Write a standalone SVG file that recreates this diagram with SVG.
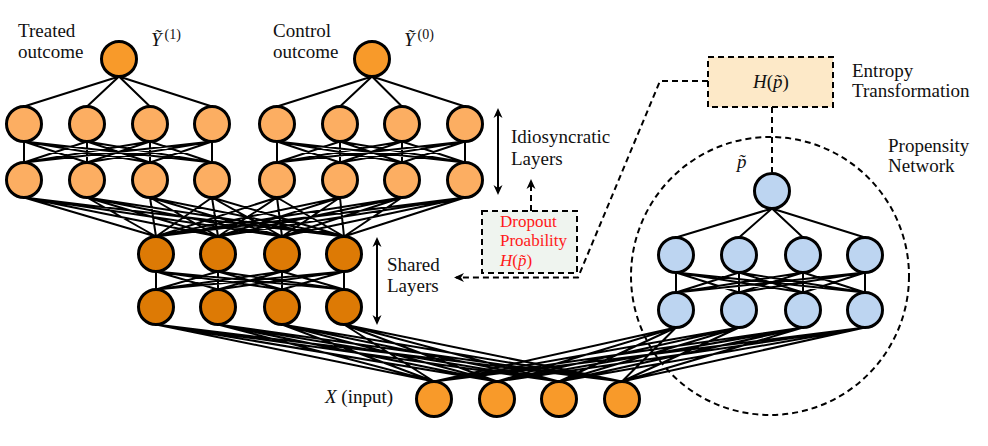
<svg xmlns="http://www.w3.org/2000/svg" width="988" height="446" viewBox="0 0 988 446">
<style>
text{font-family:"Liberation Serif","DejaVu Serif",serif;font-size:19px;fill:#111}
.it{font-style:italic}
.red{fill:#ff1a1a;font-size:17px}
.sup{font-size:14px;font-style:normal}
.n{stroke:#000;stroke-width:3}
.out{fill:#f89a2a}
.idio{fill:#fcae62}
.sh{fill:#dd7a05}
.in{fill:#f89a2a}
.bl{fill:#bdd5f1}
.w{fill:none;stroke:#000;stroke-width:2}
.d{fill:none;stroke:#000;stroke-width:2;stroke-dasharray:6 4}
</style>
<defs>
<marker id="ah" viewBox="0 0 10 10" refX="8" refY="5" markerWidth="10" markerHeight="10" markerUnits="userSpaceOnUse" orient="auto-start-reverse">
<path d="M0,0.5 L10,5 L0,9.5 L3,5 z" fill="#000"/>
</marker>
</defs>
<g id="connectors">
<path class="w" d="M119 76.5L24 106.5M119 76.5L87 106.5M119 76.5L150 106.5M119 76.5L212 106.5M372 76.5L277 106.5M372 76.5L340 106.5M372 76.5L402 106.5M372 76.5L465 106.5"/>
<path class="w" d="M24 141.5L24 162.5M24 141.5L87 162.5M24 141.5L150 162.5M24 141.5L212 162.5M87 141.5L24 162.5M87 141.5L87 162.5M87 141.5L150 162.5M87 141.5L212 162.5M150 141.5L24 162.5M150 141.5L87 162.5M150 141.5L150 162.5M150 141.5L212 162.5M212 141.5L24 162.5M212 141.5L87 162.5M212 141.5L150 162.5M212 141.5L212 162.5"/>
<path class="w" d="M277 141.5L277 162.5M277 141.5L340 162.5M277 141.5L402 162.5M277 141.5L465 162.5M340 141.5L277 162.5M340 141.5L340 162.5M340 141.5L402 162.5M340 141.5L465 162.5M402 141.5L277 162.5M402 141.5L340 162.5M402 141.5L402 162.5M402 141.5L465 162.5M465 141.5L277 162.5M465 141.5L340 162.5M465 141.5L402 162.5M465 141.5L465 162.5"/>
<path class="w" d="M24 197.5L156 236.5M24 197.5L218 236.5M24 197.5L282 236.5M24 197.5L344 236.5M87 197.5L156 236.5M87 197.5L218 236.5M87 197.5L282 236.5M87 197.5L344 236.5M150 197.5L156 236.5M150 197.5L218 236.5M150 197.5L282 236.5M150 197.5L344 236.5M212 197.5L156 236.5M212 197.5L218 236.5M212 197.5L282 236.5M212 197.5L344 236.5M277 197.5L156 236.5M277 197.5L218 236.5M277 197.5L282 236.5M277 197.5L344 236.5M340 197.5L156 236.5M340 197.5L218 236.5M340 197.5L282 236.5M340 197.5L344 236.5M402 197.5L156 236.5M402 197.5L218 236.5M402 197.5L282 236.5M402 197.5L344 236.5M465 197.5L156 236.5M465 197.5L218 236.5M465 197.5L282 236.5M465 197.5L344 236.5"/>
<path class="w" d="M156 271.5L156 289.5M156 271.5L218 289.5M156 271.5L282 289.5M156 271.5L344 289.5M218 271.5L156 289.5M218 271.5L218 289.5M218 271.5L282 289.5M218 271.5L344 289.5M282 271.5L156 289.5M282 271.5L218 289.5M282 271.5L282 289.5M282 271.5L344 289.5M344 271.5L156 289.5M344 271.5L218 289.5M344 271.5L282 289.5M344 271.5L344 289.5"/>
<path class="w" d="M156 324.5L434 381.5M156 324.5L497 381.5M156 324.5L559 381.5M156 324.5L622 381.5M218 324.5L434 381.5M218 324.5L497 381.5M218 324.5L559 381.5M218 324.5L622 381.5M282 324.5L434 381.5M282 324.5L497 381.5M282 324.5L559 381.5M282 324.5L622 381.5M344 324.5L434 381.5M344 324.5L497 381.5M344 324.5L559 381.5M344 324.5L622 381.5"/>
<path class="w" d="M434 381.5L676 327.5M434 381.5L739 327.5M434 381.5L803 327.5M434 381.5L865 327.5M497 381.5L676 327.5M497 381.5L739 327.5M497 381.5L803 327.5M497 381.5L865 327.5M559 381.5L676 327.5M559 381.5L739 327.5M559 381.5L803 327.5M559 381.5L865 327.5M622 381.5L676 327.5M622 381.5L739 327.5M622 381.5L803 327.5M622 381.5L865 327.5"/>
<path class="w" d="M676 292.5L676 272.5M676 292.5L739 272.5M676 292.5L803 272.5M676 292.5L865 272.5M739 292.5L676 272.5M739 292.5L739 272.5M739 292.5L803 272.5M739 292.5L865 272.5M803 292.5L676 272.5M803 292.5L739 272.5M803 292.5L803 272.5M803 292.5L865 272.5M865 292.5L676 272.5M865 292.5L739 272.5M865 292.5L803 272.5M865 292.5L865 272.5"/>
<path class="w" d="M772 208.5L676 237.5M772 208.5L739 237.5M772 208.5L803 237.5M772 208.5L865 237.5"/>
<path class="w" d="M498 110L498 193" marker-start="url(#ah)" marker-end="url(#ah)"/>
<path class="w" d="M377 239L377 323" marker-start="url(#ah)" marker-end="url(#ah)"/>
<path class="d" d="M708 81L660 81L578 277.5L456 277.5" marker-end="url(#ah)"/>
<path class="d" d="M531 211L531 181" marker-end="url(#ah)"/>
<path class="d" d="M772 107L772 172"/>
<circle class="d" cx="770" cy="276" r="139"/>
</g>
<g id="treated-out"><circle class="n out" cx="119" cy="59" r="17.5"/></g>
<g id="control-out"><circle class="n out" cx="372" cy="59" r="17.5"/></g>
<g id="treated-l1">
<circle class="n idio" cx="24" cy="124" r="17.5"/><circle class="n idio" cx="87" cy="124" r="17.5"/><circle class="n idio" cx="150" cy="124" r="17.5"/><circle class="n idio" cx="212" cy="124" r="17.5"/>
</g>
<g id="treated-l2">
<circle class="n idio" cx="24" cy="180" r="17.5"/><circle class="n idio" cx="87" cy="180" r="17.5"/><circle class="n idio" cx="150" cy="180" r="17.5"/><circle class="n idio" cx="212" cy="180" r="17.5"/>
</g>
<g id="control-l1">
<circle class="n idio" cx="277" cy="124" r="17.5"/><circle class="n idio" cx="340" cy="124" r="17.5"/><circle class="n idio" cx="402" cy="124" r="17.5"/><circle class="n idio" cx="465" cy="124" r="17.5"/>
</g>
<g id="control-l2">
<circle class="n idio" cx="277" cy="180" r="17.5"/><circle class="n idio" cx="340" cy="180" r="17.5"/><circle class="n idio" cx="402" cy="180" r="17.5"/><circle class="n idio" cx="465" cy="180" r="17.5"/>
</g>
<g id="shared-l1">
<circle class="n sh" cx="156" cy="254" r="17.5"/><circle class="n sh" cx="218" cy="254" r="17.5"/><circle class="n sh" cx="282" cy="254" r="17.5"/><circle class="n sh" cx="344" cy="254" r="17.5"/>
</g>
<g id="shared-l2">
<circle class="n sh" cx="156" cy="307" r="17.5"/><circle class="n sh" cx="218" cy="307" r="17.5"/><circle class="n sh" cx="282" cy="307" r="17.5"/><circle class="n sh" cx="344" cy="307" r="17.5"/>
</g>
<g id="input">
<circle class="n in" cx="434" cy="399" r="17.5"/><circle class="n in" cx="497" cy="399" r="17.5"/><circle class="n in" cx="559" cy="399" r="17.5"/><circle class="n in" cx="622" cy="399" r="17.5"/>
</g>
<g id="prop-l2">
<circle class="n bl" cx="676" cy="310" r="17.5"/><circle class="n bl" cx="739" cy="310" r="17.5"/><circle class="n bl" cx="803" cy="310" r="17.5"/><circle class="n bl" cx="865" cy="310" r="17.5"/>
</g>
<g id="prop-l1">
<circle class="n bl" cx="676" cy="255" r="17.5"/><circle class="n bl" cx="739" cy="255" r="17.5"/><circle class="n bl" cx="803" cy="255" r="17.5"/><circle class="n bl" cx="865" cy="255" r="17.5"/>
</g>
<g id="prop-out"><circle class="n bl" cx="772" cy="191" r="17.5"/></g>
<g id="entropy">
<rect x="708" y="57" width="125" height="50" fill="#fde9c8" stroke="#000" stroke-width="2" stroke-dasharray="6 4"/>
<text x="771" y="88" text-anchor="middle"><tspan class="it">H</tspan>(<tspan class="it">p̃</tspan>)</text>
</g>
<g id="dropout">
<rect x="482" y="211" width="95" height="62" fill="#eff4ef" stroke="#000" stroke-width="2" stroke-dasharray="6 4"/>
<text class="red" x="500" y="227">Dropout</text>
<text class="red" x="500" y="246">Proability</text>
<text class="red" x="500" y="266"><tspan class="it">H</tspan>(<tspan class="it">p̃</tspan>)</text>
</g>
<g id="labels">
<text x="18" y="37">Treated</text>
<text x="18" y="58">outcome</text>
<text x="151" y="46"><tspan class="it">Ỹ</tspan><tspan class="sup" dx="3" dy="-7">(1)</tspan></text>
<text x="273" y="37">Control</text>
<text x="273" y="58">outcome</text>
<text x="404" y="46"><tspan class="it">Ỹ</tspan><tspan class="sup" dx="3" dy="-7">(0)</tspan></text>
<text x="511" y="143">Idiosyncratic</text>
<text x="511" y="165">Layers</text>
<text x="387" y="271">Shared</text>
<text x="387" y="292">Layers</text>
<text x="852" y="77">Entropy</text>
<text x="852" y="97">Transformation</text>
<text x="888" y="152">Propensity</text>
<text x="888" y="172">Network</text>
<text class="it" x="737" y="168">p̃</text>
<text x="325" y="403"><tspan class="it">X</tspan> (input)</text>
</g>
</svg>
